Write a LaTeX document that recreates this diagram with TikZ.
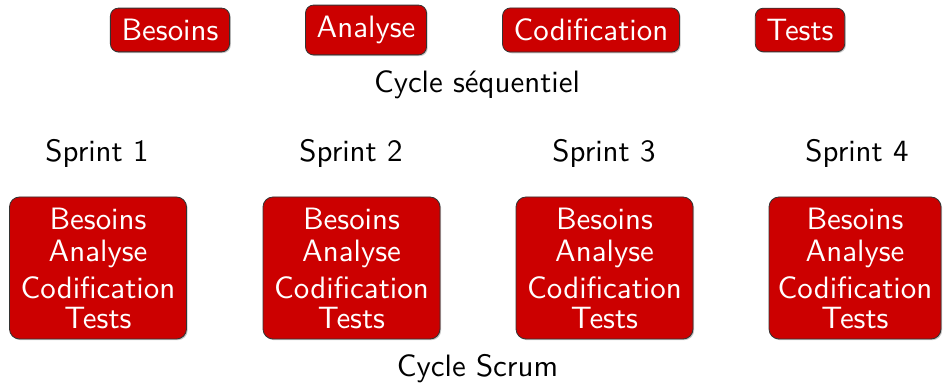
\documentclass[tikz,border=0pt]{standalone}
\usepackage{fontspec}
\newfontfamily\refsans{lmsans10-regular}[Extension=.otf]
\usetikzlibrary{shadows}
\definecolor{boxred}{HTML}{CC0000}
\tikzset{
  phase/.style={draw=black!80, line width=0.4pt, fill=boxred, text=white, rounded corners=4pt,
    inner xsep=5.6pt, inner ysep=5.5pt, font=\refsans\fontsize{15.45}{18}\selectfont,
    drop shadow={shadow xshift=0.6pt, shadow yshift=-0.6pt, opacity=0.45}},
  sprintbox/.style={draw=black!80, line width=0.4pt, fill=boxred, text=white, rounded corners=5pt,
    minimum width=88.5pt, minimum height=71pt, inner sep=0pt, align=center,
    font=\refsans\fontsize{15.45}{16}\selectfont,
    drop shadow={shadow xshift=0.6pt, shadow yshift=-0.6pt, opacity=0.45}},
  label/.style={anchor=base, inner sep=0pt, font=\refsans\fontsize{15.45}{18}\selectfont}
}
\begin{document}
\begin{tikzpicture}[x=1pt,y=1pt]
\useasboundingbox (0,0) rectangle (471.5,-192);
% sequential cycle
\node[phase] (besoins) at (85,-15) {Besoins};
\node[phase] (analyse) at (183,-15) {Analyse};
\node[phase] (codif) at (295.5,-15) {Codification};
\node[phase] (tests) at (400,-15) {Tests};
\node[label] (seq) at (238.5,-46.5) {Cycle séquentiel};
% sprints
\node[label] (s1) at (48.5,-81) {Sprint 1};
\node[label] (s2) at (175.5,-81) {Sprint 2};
\node[label] (s3) at (302,-81) {Sprint 3};
\node[label] (s4) at (428.5,-81) {Sprint 4};
\node[sprintbox] (b1) at (49,-134) {Besoins\\Analyse\\[2.5pt]Codification\\[-1pt]Tests};
\node[sprintbox] (b2) at (175.75,-134) {Besoins\\Analyse\\[2.5pt]Codification\\[-1pt]Tests};
\node[sprintbox] (b3) at (302.25,-134) {Besoins\\Analyse\\[2.5pt]Codification\\[-1pt]Tests};
\node[sprintbox, minimum width=86pt] (b4) at (427.5,-134) {Besoins\\Analyse\\[2.5pt]Codification\\[-1pt]Tests};
\node[label] (scrum) at (238.75,-188.5) {Cycle Scrum};
\end{tikzpicture}
\end{document}
